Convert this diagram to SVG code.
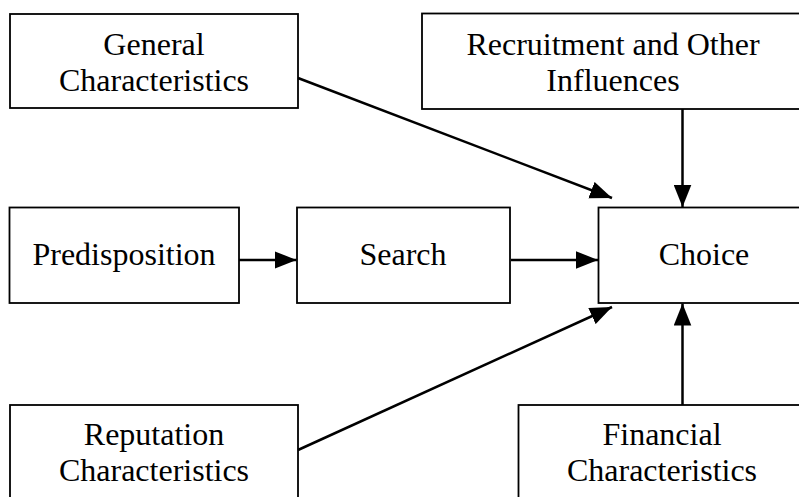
<svg xmlns="http://www.w3.org/2000/svg" width="799" height="497" viewBox="0 0 799 497">
<defs>
<style>
.box{fill:#fff;stroke:#000;stroke-width:1.8}
.t{font-family:"Liberation Serif","Times New Roman",serif;font-size:32px;fill:#000;text-anchor:middle}
.c{stroke:#000;stroke-width:2.5;fill:none;marker-end:url(#ah)}
</style>
<marker id="ah" markerUnits="userSpaceOnUse" markerWidth="22" markerHeight="18" refX="20" refY="8" orient="auto" viewBox="0 0 20 16">
<path d="M0,0 L20,8 L0,16 Z" fill="#000"/>
</marker>
</defs>
<rect width="799" height="497" fill="#fff"/>
<g id="general"><rect class="box" x="10" y="14" width="288" height="94"/><text class="t" x="154" y="55">General</text><text class="t" x="154" y="91">Characteristics</text></g>
<g id="recruitment"><rect class="box" x="422" y="13.5" width="384" height="95.5"/><text class="t" x="613" y="55">Recruitment and Other</text><text class="t" x="613" y="91">Influences</text></g>
<g id="predisposition"><rect class="box" x="9.5" y="207.5" width="229.5" height="95.5"/><text class="t" x="124" y="265">Predisposition</text></g>
<g id="search"><rect class="box" x="297" y="207.5" width="213" height="95.5"/><text class="t" x="403" y="265">Search</text></g>
<g id="choice"><rect class="box" x="598.5" y="207.5" width="212" height="95.5"/><text class="t" x="704" y="265">Choice</text></g>
<g id="reputation"><rect class="box" x="10" y="405" width="288" height="100"/><text class="t" x="154" y="445">Reputation</text><text class="t" x="154" y="481">Characteristics</text></g>
<g id="financial"><rect class="box" x="518.5" y="405" width="288" height="100"/><text class="t" x="662" y="445">Financial</text><text class="t" x="662" y="481">Characteristics</text></g>
<g id="connectors">
<line class="c" x1="239" y1="260" x2="296.5" y2="260"/>
<line class="c" x1="511" y1="260" x2="598" y2="260"/>
<line class="c" x1="682.5" y1="109" x2="682.5" y2="207"/>
<line class="c" x1="682.5" y1="405" x2="682.5" y2="303.5"/>
<line class="c" x1="298" y1="78" x2="612" y2="198"/>
<line class="c" x1="298" y1="450" x2="612" y2="307"/>
</g>
</svg>
